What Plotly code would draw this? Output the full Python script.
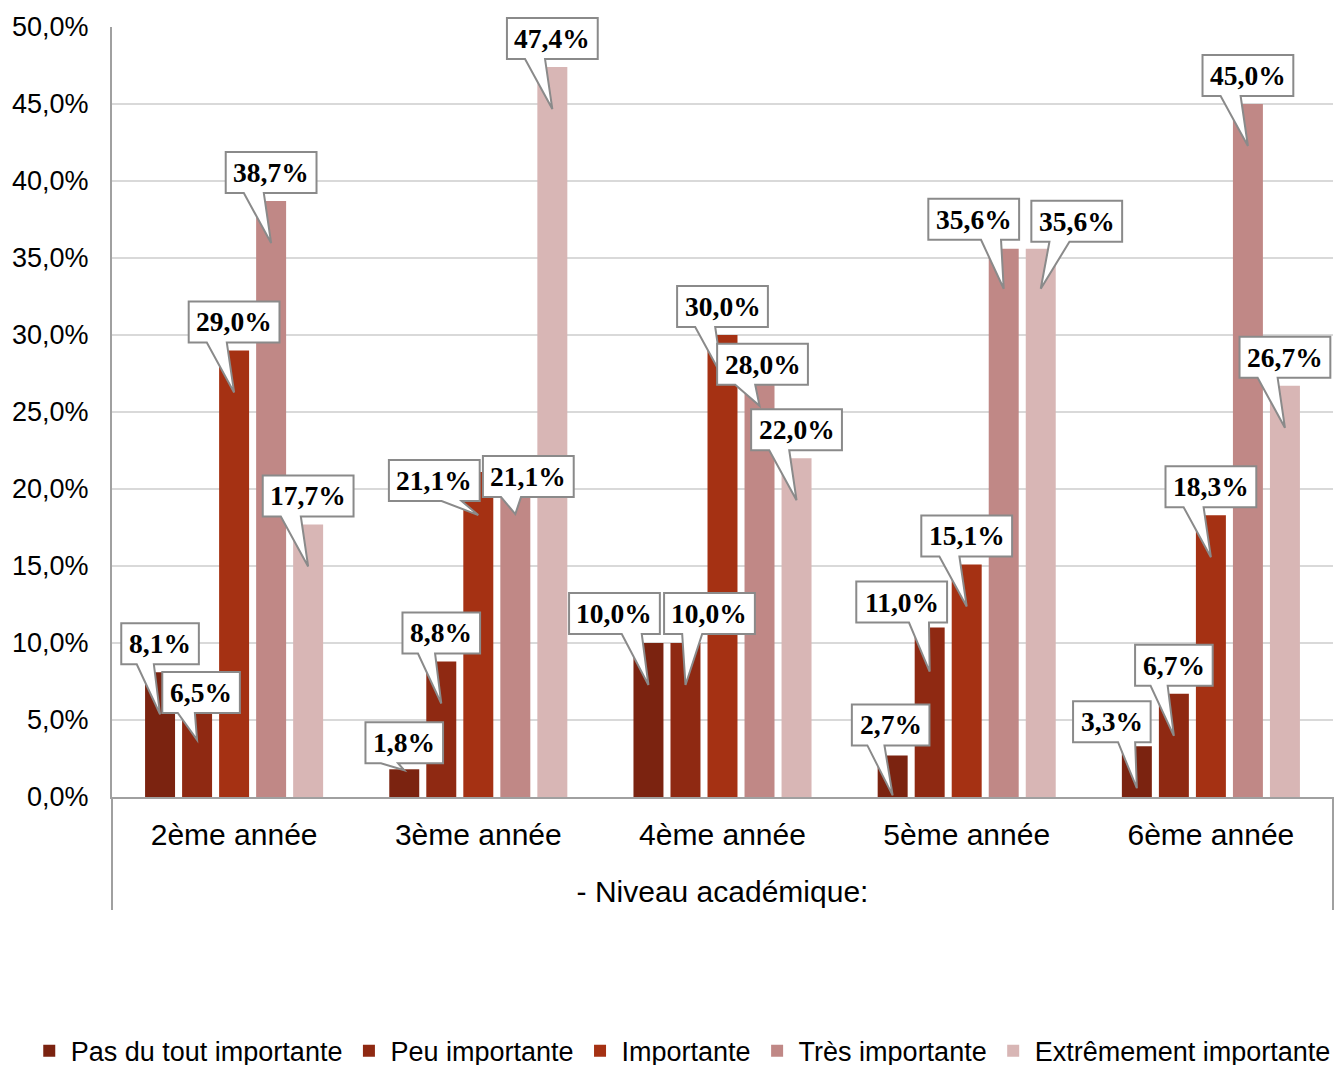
import plotly.graph_objects as go

# Survey results by academic year (percent of respondents)
years = ["2ème année", "3ème année", "4ème année", "5ème année", "6ème année"]
series_names = [
    "Pas du tout importante",
    "Peu importante",
    "Importante",
    "Très importante",
    "Extrêmement importante",
]
pas_du_tout = [8.1, 1.8, 10.0, 2.7, 3.3]
peu_importante = [6.5, 8.8, 10.0, 11.0, 6.7]
importante = [29.0, 21.1, 30.0, 15.1, 18.3]
tres_importante = [38.7, 21.1, 28.0, 35.6, 45.0]
extremement_importante = [17.7, 47.4, 22.0, 35.6, 26.7]
y_ticks = [0, 5, 10, 15, 20, 25, 30, 35, 40, 45, 50]
axis_title = "- Niveau académique:"


def pct(v):
    return f"{v:.1f}".replace(".", ",") + "%"


series_values = [pas_du_tout, peu_importante, importante, tres_importante, extremement_importante]
colors = ["#7B2310", "#8F2912", "#A53113", "#C08886", "#D8B6B5"]

Y_MAX = 50
BARGAP = 0.242
BARGROUPGAP = 0.19
n_series = len(series_names)
slot = (1 - BARGAP) / n_series

fig = go.Figure()
xs = list(range(len(years)))
for name, vals, col in zip(series_names, series_values, colors):
    fig.add_trace(go.Bar(
        x=xs, y=vals, name=name, marker=dict(color=col, line=dict(width=0)),
        hoverinfo="skip",
    ))

# Callout placement (pixels): box-centre x offset, box-bottom offset below bar top,
# pointer tip depth below bar top.
DEFAULT_CALLOUT = (0, -8, 42)
callout_overrides = {
    (0, 1): (4, 16, 43),
    (1, 0): (0, -6, 1),
    (1, 2): (-44, 29, 43),
    (1, 3): (13, 25, 42),
    (2, 0): (-34, -9, 42),
    (2, 1): (24, -9, 42),
    (2, 3): (3, 19, 40),
    (3, 0): (-2, -10, 40),
    (3, 1): (-28, -5, 44),
    (3, 3): (-30, -9, 40),
    (3, 4): (36, -7, 40),
    (4, 0): (-25, -4, 42),
}

BOX_H = 41
shapes = []
annotations = []
for j, vals in enumerate(series_values):
    for i, v in enumerate(vals):
        label = pct(v)
        n_digits = sum(c.isdigit() for c in label)
        w = 18 + 13.25 * n_digits + 6.6 + 26.5
        dx, b, tip = callout_overrides.get((i, j), DEFAULT_CALLOUT)
        xb = i + (j - (n_series - 1) / 2) * slot
        L, R = dx - w / 2, dx + w / 2
        yb, yt = -b, -b + BOX_H
        f1, f2 = (0.58, 0.8) if dx < -15 else (0.2, 0.42)
        x1, x2 = L + f1 * w, L + f2 * w
        path = (f"M{L:.1f},{yb:.1f} L{x1:.1f},{yb:.1f} L0,{-tip:.1f} "
                f"L{x2:.1f},{yb:.1f} L{R:.1f},{yb:.1f} L{R:.1f},{yt:.1f} "
                f"L{L:.1f},{yt:.1f} Z")
        shapes.append(dict(
            type="path", xref="x", yref="paper",
            xsizemode="pixel", ysizemode="pixel",
            xanchor=xb, yanchor=v / Y_MAX, path=path,
            fillcolor="white", line=dict(color="#8a8a8a", width=2),
            layer="above",
        ))
        annotations.append(dict(
            x=xb, y=v, xref="x", yref="y", xshift=dx, yshift=yb + BOX_H / 2,
            text=f"<b>{label}</b>", showarrow=False,
            xanchor="center", yanchor="middle",
            font=dict(family="Liberation Serif", size=27.5, color="black"),
        ))

# Category box edges below the plot area
drop = -113 / 770
shapes.append(dict(type="line", xref="paper", yref="paper", x0=0, x1=0, y0=0, y1=drop,
                   line=dict(color="#a0a0a0", width=2), layer="above"))
shapes.append(dict(type="line", xref="paper", yref="paper", x0=1, x1=1, y0=0, y1=drop,
                   line=dict(color="#a0a0a0", width=2), layer="above"))

fig.update_layout(
    width=1338, height=1065,
    margin=dict(l=112, r=5, t=27, b=268, autoexpand=False),
    paper_bgcolor="white", plot_bgcolor="white",
    barmode="group", bargap=BARGAP, bargroupgap=BARGROUPGAP,
    font=dict(family="Liberation Sans", color="black"),
    shapes=shapes, annotations=annotations,
    showlegend=True,
    legend=dict(
        orientation="h", x=-0.069, xanchor="left", y=-0.33, yanchor="middle",
        font=dict(family="Liberation Sans", size=27, color="black"),
        bgcolor="rgba(0,0,0,0)", traceorder="normal", itemwidth=33,
    ),
    xaxis=dict(
        range=[-0.5, len(years) - 0.5], tickvals=xs, ticktext=years,
        showgrid=False, zeroline=False, showline=True,
        linecolor="#a0a0a0", linewidth=2, ticks="",
        tickfont=dict(size=30, color="black"), ticklabelstandoff=10,
        title=dict(text=axis_title, font=dict(size=30, color="black"), standoff=31),
    ),
    yaxis=dict(
        range=[0, Y_MAX], tickvals=y_ticks, ticktext=[pct(t) for t in y_ticks],
        showgrid=True, gridcolor="#d9d9d9", gridwidth=2,
        zeroline=False, showline=True, linecolor="#a0a0a0", linewidth=2,
        ticks="", tickfont=dict(size=27, color="black"), ticklabelstandoff=16,
    ),
)

fig.write_html("out.html")
